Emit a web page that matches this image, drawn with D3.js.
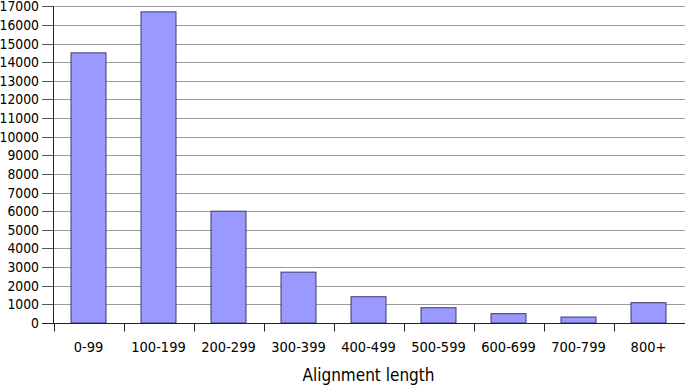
<!DOCTYPE html>
<html>
<head>
<meta charset="utf-8">
<script src="https://cdn.jsdelivr.net/npm/d3@7"></script>
<style>
  body { margin: 0; background: #fff; }
  svg { display: block; }
  text { font-family: "DejaVu Sans Condensed", "DejaVu Sans", sans-serif; fill: #000; }
</style>
</head>
<body>
<svg id="chart" width="685" height="388"></svg>
<script>
  // chart data
  const categories = ["0-99", "100-199", "200-299", "300-399", "400-499", "500-599", "600-699", "700-799", "800+"];
  const counts = [14500, 16700, 6000, 2730, 1410, 820, 500, 320, 1090];
  const yTicks = d3.range(0, 17001, 1000);

  const svg = d3.select("#chart");
  const margin = { left: 53.5, right: 1.5, top: 6.3, bottom: 65 };
  const width = 685, height = 388;

  const x = d3.scaleBand()
      .domain(categories)
      .range([margin.left, width - margin.right])
      .paddingInner(0.5)
      .paddingOuter(0.25);

  const y = d3.scaleLinear()
      .domain([0, 17000])
      .range([height - margin.bottom, margin.top]);

  // GRIDLINES
  svg.append("g")
      .selectAll("line")
      .data(yTicks.filter(d => d > 0))
      .enter().append("line")
      .attr("x1", margin.left)
      .attr("x2", width)
      .attr("y1", d => Math.round(y(d)) + 0.5)
      .attr("y2", d => Math.round(y(d)) + 0.5)
      .attr("stroke", "#9a9a9a")
      .attr("stroke-width", 1);

  // little tick stubs left of the axis
  svg.append("g")
      .selectAll("line")
      .data(yTicks)
      .enter().append("line")
      .attr("x1", 42)
      .attr("x2", margin.left)
      .attr("y1", d => Math.round(y(d)) + 0.5)
      .attr("y2", d => Math.round(y(d)) + 0.5)
      .attr("stroke", "#555");

  // Y AXIS labels
  svg.append("g")
      .selectAll("text")
      .data(yTicks)
      .enter().append("text")
      .attr("x", 39)
      .attr("y", d => y(d))
      .attr("dy", "0.36em")
      .attr("text-anchor", "end")
      .attr("font-size", 13.8)
      .text(d => d);

  // BARS
  svg.append("g")
      .selectAll("rect")
      .data(counts)
      .enter().append("rect")
      .attr("x", (d, i) => x(categories[i]))
      .attr("y", d => y(d))
      .attr("width", x.bandwidth())
      .attr("height", d => y(0) - y(d))
      .attr("fill", "#9999ff")
      .attr("stroke", "#3a3a6a")
      .attr("stroke-width", 1);

  // AXES lines
  const y0 = Math.round(y(0)) + 0.5;
  svg.append("line")
      .attr("x1", margin.left).attr("x2", margin.left)
      .attr("y1", margin.top).attr("y2", y0)
      .attr("stroke", "#222");
  svg.append("line")
      .attr("x1", 42).attr("x2", width)
      .attr("y1", y0).attr("y2", y0)
      .attr("stroke", "#222");

  // x ticks between categories
  svg.append("g")
      .selectAll("line")
      .data(categories)
      .enter().append("line")
      .attr("x1", d => Math.round(x(d) - x.bandwidth() / 2) + 0.5)
      .attr("x2", d => Math.round(x(d) - x.bandwidth() / 2) + 0.5)
      .attr("y1", y0)
      .attr("y2", y0 + 8)
      .attr("stroke", "#222");

  // x labels
  svg.append("g")
      .selectAll("text")
      .data(categories)
      .enter().append("text")
      .attr("x", d => x(d) + x.bandwidth() / 2)
      .attr("y", 347)
      .attr("dy", "0.36em")
      .attr("text-anchor", "middle")
      .attr("font-size", 14.5)
      .text(d => d);

  // axis title
  svg.append("text")
      .attr("x", (margin.left + width - margin.right) / 2)
      .attr("y", 375)
      .attr("dy", "0.36em")
      .attr("text-anchor", "middle")
      .attr("font-family", "DejaVu Sans, sans-serif")
      .attr("font-size", 17)
      .text("Alignment length");
</script>
</body>
</html>
